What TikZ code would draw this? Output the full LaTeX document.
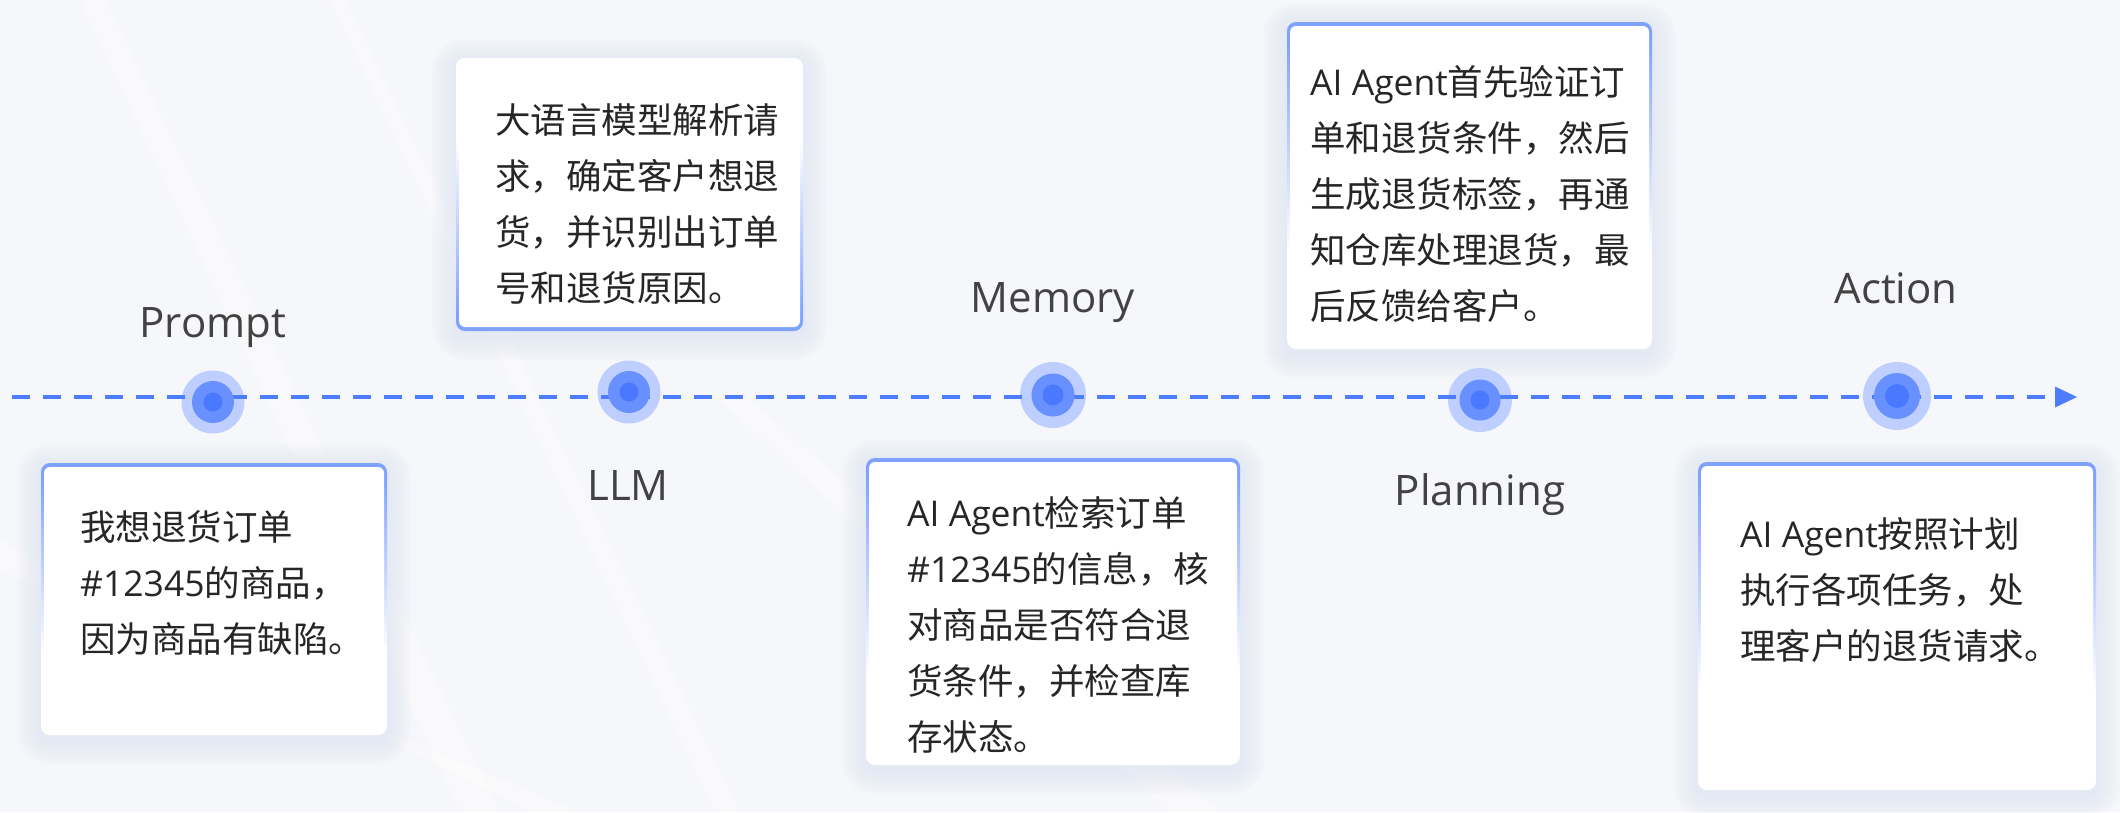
\documentclass[tikz,border=0pt]{standalone}
\usepackage{fontspec}
\setmainfont{Noto Sans CJK SC}
\newfontfamily\lat{Open Sans}
\usetikzlibrary{arrows.meta}
\definecolor{bg}{HTML}{F6F7FA}
\definecolor{lineblue}{HTML}{4D7DFF}
\definecolor{ringc}{HTML}{BDCEFF}
\definecolor{midc}{HTML}{6890FF}
\definecolor{corec}{HTML}{4A78FF}
\definecolor{bordc}{HTML}{7FA2FF}
\definecolor{txt}{HTML}{262626}
\definecolor{lbl}{HTML}{424242}
\definecolor{shad}{HTML}{D8E0F4}
\pgfdeclareverticalshading{bordtop}{100bp}{color(0bp)=(white); color(40bp)=(white); color(72bp)=(bordc); color(100bp)=(bordc)}
\pgfdeclareverticalshading{bordbot}{100bp}{color(0bp)=(bordc); color(28bp)=(bordc); color(60bp)=(white); color(100bp)=(white)}
\newcommand\softshadow[4]{%
  \foreach \i in {1,...,12}{%
    \pgfmathsetmacro\e{2*\i}%
    \fill[shad, opacity=0.05, rounded corners=8pt+\e pt] ({#1-\e},{#2-\e+5}) rectangle ({#3+\e},{#4+\e+5});
  }}
\tikzset{
  box/.style={rectangle, rounded corners=9pt, inner sep=0pt, outer sep=0pt, shade, shading=#1},
  ring/.style={circle, fill=ringc, inner sep=0pt, minimum size=#1},
  midring/.style={circle, fill=midc, inner sep=0pt, minimum size=#1},
  core/.style={circle, fill=corec, inner sep=0pt, minimum size=#1},
  lab/.style={font=\lat\fontsize{42pt}{50pt}\selectfont, text=lbl, inner sep=0pt, anchor=base},
  btxt/.style={font=\fontsize{35.5pt}{56pt}\selectfont, text=txt, inner sep=0pt, anchor=north west, align=left},
  timeline/.style={draw=lineblue, line width=4pt, dash pattern=on 18pt off 13pt, -{Triangle[length=22pt,width=21pt,line width=0pt]}}
}
\begin{document}
\begin{tikzpicture}[x=1pt, y=-1pt]
\useasboundingbox (0,0) rectangle (2120,812);
\fill[bg] (0,0) rectangle (2120,812);
% faint rays
\begin{scope}[white, opacity=0.35]
\fill (80,0) -- (105,0) -- (500,812) -- (460,812) -- cycle;
\fill (330,0) -- (345,0) -- (740,812) -- (715,812) -- cycle;
\fill (720,400) -- (750,400) -- (1220,812) -- (1170,812) -- cycle;
\fill (0,540) -- (0,570) -- (580,812) -- (530,812) -- cycle;
\end{scope}
% shadows
\softshadow{41}{463}{387}{735}
\softshadow{456}{58}{803}{331}
\softshadow{866}{458}{1240}{765}
\softshadow{1287}{22}{1652}{349}
\softshadow{1698}{462}{2096}{790}
% boxes
\node[box=bordtop, minimum width=346pt, minimum height=272pt] (b1) at (214,599) {};
\node[box=bordbot, minimum width=347pt, minimum height=273pt] (b2) at (629.5,194.5) {};
\node[box=bordtop, minimum width=374pt, minimum height=307pt] (b3) at (1053,611.5) {};
\node[box=bordtop, minimum width=365pt, minimum height=327pt] (b4) at (1469.5,185.5) {};
\node[box=bordtop, minimum width=398pt, minimum height=328pt] (b5) at (1897,626) {};
\foreach \b in {b1,b3,b4,b5}{
  \fill[white, rounded corners=6pt] ([shift={(3,4)}]\b.north west) rectangle ([shift={(-3,-3)}]\b.south east);
}
\fill[white, rounded corners=6pt] ([shift={(3,3)}]b2.north west) rectangle ([shift={(-3,-4)}]b2.south east);
% box texts
\node[btxt] (t1) at (80,510) {我想退货订单\\{\lat\#12345}的商品，\\因为商品有缺陷。};
\node[btxt] (t2) at (495,103) {大语言模型解析请\\求，确定客户想退\\货，并识别出订单\\号和退货原因。};
\node[btxt] (t3) at (907,496) {{\lat AI Agent}检索订单\\{\lat\#12345}的信息，核\\对商品是否符合退\\货条件，并检查库\\存状态。};
\node[btxt] (t4) at (1310,65) {{\lat AI Agent}首先验证订\\单和退货条件，然后\\生成退货标签，再通\\知仓库处理退货，最\\后反馈给客户。};
\node[btxt] (t5) at (1740,517) {{\lat AI Agent}按照计划\\执行各项任务，处\\理客户的退货请求。};
% outer rings
\node[ring=63pt] (r1) at (213,402) {};
\node[ring=63pt] (r2) at (629,392) {};
\node[ring=66pt] (r3) at (1053,395) {};
\node[ring=64pt] (r4) at (1480,400) {};
\node[ring=68pt] (r5) at (1897,396) {};
% timeline
\coordinate (tstart) at (12,397);
\coordinate (tend) at (2077,397);
\draw[timeline] (tstart) -- (tend);
% inner dots
\node[midring=42pt] (m1) at (r1) {};
\node[midring=42pt] (m2) at (r2) {};
\node[midring=43pt] (m3) at (r3) {};
\node[midring=41pt] (m4) at (r4) {};
\node[midring=46pt] (m5) at (r5) {};
\node[core=19pt] (c1) at (r1) {};
\node[core=19pt] (c2) at (r2) {};
\node[core=21pt] (c3) at (r3) {};
\node[core=19pt] (c4) at (r4) {};
\node[core=24pt] (c5) at (r5) {};
% labels
\node[lab] (lP) at (213,337) {Prompt};
\node[lab] (lL) at (628,500) {LLM};
\node[lab] (lM) at (1053,312) {Memory};
\node[lab] (lN) at (1480,505) {Planning};
\node[lab] (lA) at (1896,303) {Action};
\end{tikzpicture}
\end{document}
